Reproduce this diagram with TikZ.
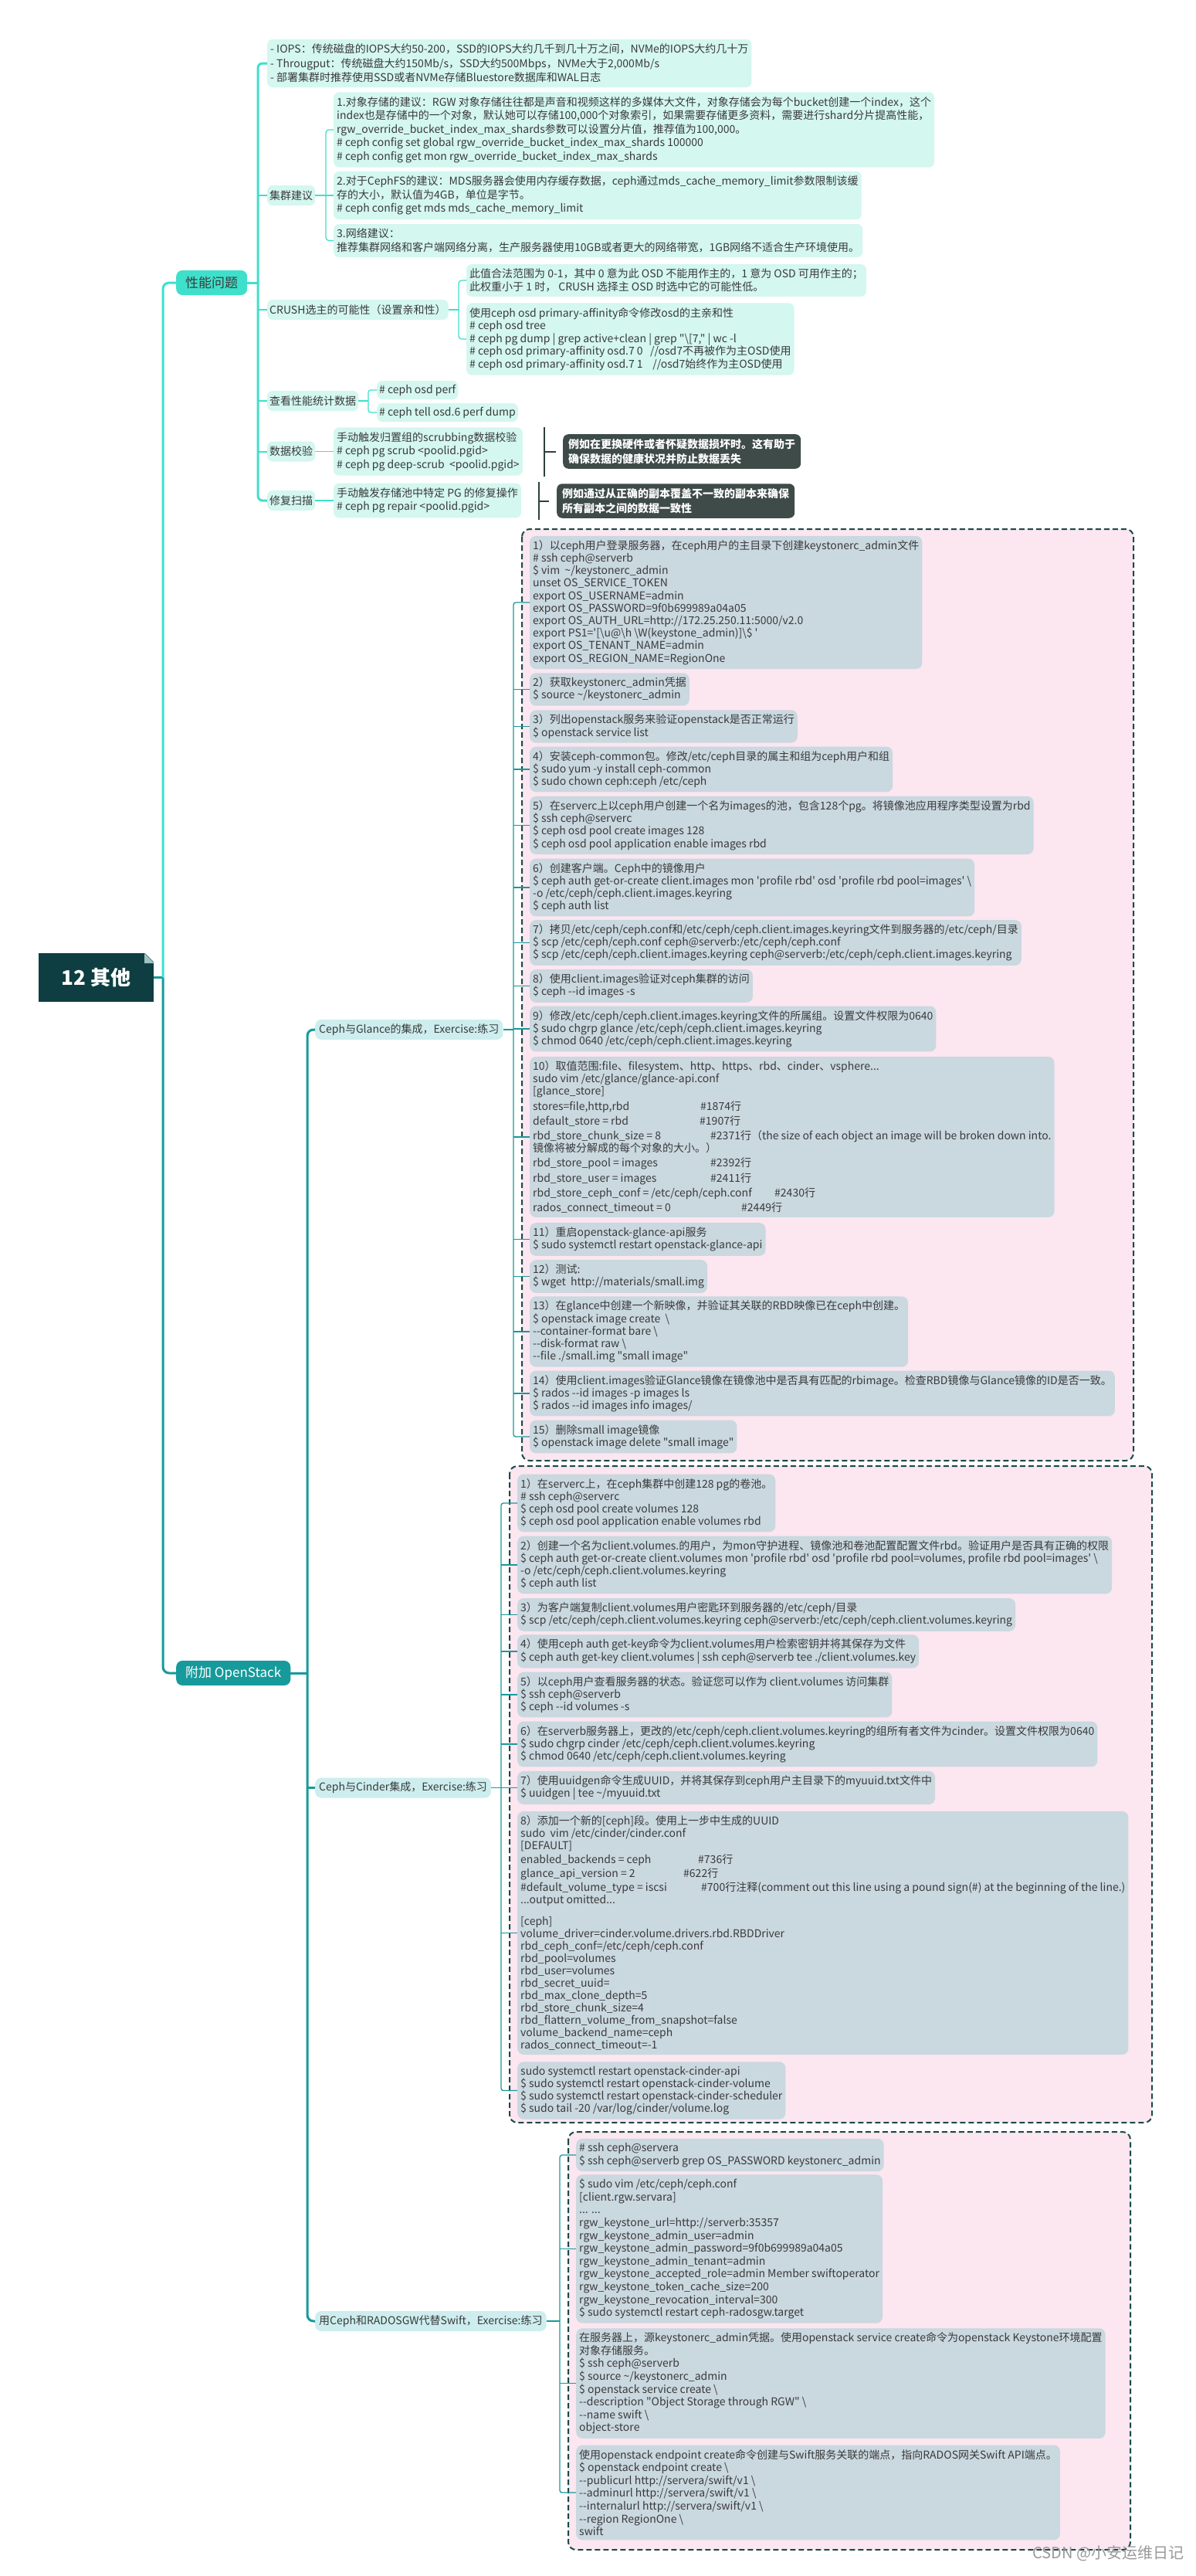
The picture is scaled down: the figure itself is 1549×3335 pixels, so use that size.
\documentclass[tikz,border=0pt]{standalone}
\usepackage{fontspec}
\newfontfamily\nsc{Noto Sans CJK SC}
\newcommand\Bs{\char"5C\relax}
\newcommand\Tl{\char"7E\relax}
\definecolor{mint}{HTML}{D4F7F0}
\definecolor{turq}{HTML}{3FE0CB}
\definecolor{rootc}{HTML}{0E3E41}
\definecolor{teal}{HTML}{179A9B}
\definecolor{lblc}{HTML}{CDEDEE}
\definecolor{itemc}{HTML}{CAD8E0}
\definecolor{pinkc}{HTML}{FCE6F0}
\definecolor{dashc}{HTML}{1A4A48}
\definecolor{calf}{HTML}{3E4B48}
\definecolor{txt}{HTML}{3A3A3A}
\definecolor{brkc}{HTML}{2D403E}
\definecolor{wmc}{HTML}{999999}
\definecolor{flapc}{HTML}{9FC3C3}
\begin{document}
\begin{tikzpicture}[x=1pt,y=-1pt,
  mintbox/.style={fill=mint, rounded corners=7pt, align=left, anchor=west, inner xsep=4pt, inner ysep=6pt, text=txt, font=\nsc\fontsize{14}{17.5}\selectfont},
  midlbl/.style={fill=mint, rounded corners=7pt, anchor=west, inner xsep=3pt, inner ysep=0pt, minimum height=26pt, text=txt, font=\nsc\fontsize{14}{17}\selectfont},
  bluebox/.style={fill=itemc, rounded corners=8pt, align=left, anchor=west, inner xsep=4pt, inner ysep=5.5pt, text=txt, font=\nsc\fontsize{14}{16.2}\selectfont},
  oslbl/.style={fill=lblc, rounded corners=8pt, anchor=west, inner xsep=5pt, inner ysep=0pt, minimum height=26pt, text=txt, font=\nsc\fontsize{14}{17}\selectfont},
  callout/.style={fill=calf, rounded corners=7pt, align=left, anchor=west, inner xsep=7pt, inner ysep=6pt, text=white, font=\nsc\bfseries\fontsize{14}{19}\selectfont},
  lvlone/.style={rounded corners=8pt, anchor=west, inner xsep=12pt, inner ysep=0pt, minimum height=32pt, font=\nsc\fontsize{17}{20}\selectfont},
  rootbox/.style={fill=rootc, text=white, minimum width=149pt, minimum height=63pt, inner sep=0pt, font=\nsc\bfseries\fontsize{26}{30}\selectfont},
  tT/.style={draw=turq, line width=3pt},
  bT/.style={draw=turq, line width=2pt},
  sT/.style={draw=turq, line width=1.3pt},
  tD/.style={draw=teal, line width=3pt},
  sD/.style={draw=teal, line width=1.3pt},
  brk/.style={draw=brkc, line width=2pt},
  bnd/.style={fill=pinkc, draw=dashc, line width=2pt, dash pattern=on 7pt off 4pt, rounded corners=10pt}
]
\fill[white] (0,0) rectangle (1549,3335);
\useasboundingbox (0,0) rectangle (1549,3335);

% ---------- boundaries ----------
\draw[bnd] (676,685) rectangle (1468,1891);
\draw[bnd] (660,1898) rectangle (1492,2748);
\draw[bnd] (736,2760) rectangle (1464,3301);

% ---------- bus coordinates ----------
\coordinate (bus0) at (211,0);
\coordinate (bus1) at (334,0);
\coordinate (bus2) at (422,0);
\coordinate (bus3) at (594,0);
\coordinate (bus6) at (477,0);
\coordinate (bus4) at (398,0);
\coordinate (bus5) at (665,0);
\coordinate (bus7) at (649,0);
\coordinate (bus8) at (725,0);

% ---------- root ----------
\node[rootbox] (root) at (124.5,1265.5) {12 其他};
\fill[white] (187,1233) -- (201,1233) -- (201,1247) -- cycle;
\fill[flapc] (187,1234) -- (200,1247) -- (187,1247) -- cycle;

% ---------- level one ----------
\node[lvlone, fill=turq, text=txt] (perf) at (228,366) {性能问题};
\node[lvlone, fill=teal, text=white] (ops) at (228,2166) {附加 OpenStack};

% ---------- performance section ----------
\node[mintbox, font=\nsc\fontsize{14}{18.5}\selectfont] (notes) at (346,82) {- IOPS：传统磁盘的IOPS大约50-200，SSD的IOPS大约几千到几十万之间，NVMe的IOPS大约几十万\\
- Througput：传统磁盘大约150Mb/s，SSD大约500Mbps，NVMe大于2,000Mb/s\\
- 部署集群时推荐使用SSD或者NVMe存储Bluestore数据库和WAL日志};

\node[midlbl] (clus) at (346,253) {集群建议};
\node[mintbox] (c1) at (432,168) {1.对象存储的建议：RGW 对象存储往往都是声音和视频这样的多媒体大文件，对象存储会为每个bucket创建一个index，这个\\
index也是存储中的一个对象，默认她可以存储100,000个对象索引，如果需要存储更多资料，需要进行shard分片提高性能，\\
rgw\_override\_bucket\_index\_max\_shards参数可以设置分片值，推荐值为100,000。\\
\# ceph config set global rgw\_override\_bucket\_index\_max\_shards 100000\\
\# ceph config get mon rgw\_override\_bucket\_index\_max\_shards};
\node[mintbox] (c2) at (432,253) {2.对于CephFS的建议：MDS服务器会使用内存缓存数据，ceph通过mds\_cache\_memory\_limit参数限制该缓\\
存的大小，默认值为4GB，单位是字节。\\
\# ceph config get mds mds\_cache\_memory\_limit};
\node[mintbox] (c3) at (432,311.5) {3.网络建议：\\
推荐集群网络和客户端网络分离，生产服务器使用10GB或者更大的网络带宽，1GB网络不适合生产环境使用。};

\node[midlbl] (crush) at (346,401) {CRUSH选主的可能性（设置亲和性）};
\node[mintbox, font=\nsc\fontsize{14}{16.5}\selectfont] (cA) at (604,363) {此值合法范围为 0-1，其中 0 意为此 OSD 不能用作主的，1 意为 OSD 可用作主的；\\
此权重小于 1 时， CRUSH 选择主 OSD 时选中它的可能性低。};
\node[mintbox, font=\nsc\fontsize{14}{16.5}\selectfont] (cB) at (604,439) {使用ceph osd primary-affinity命令修改osd的主亲和性\\
\# ceph osd tree\\
\# ceph pg dump | grep active+clean | grep "\Bs[7," | wc -l\\
\# ceph osd primary-affinity osd.7 0\ \ \ //osd7不再被作为主OSD使用\\
\# ceph osd primary-affinity osd.7 1\ \ \ \ //osd7始终作为主OSD使用};

\node[midlbl] (stat) at (346,519) {查看性能统计数据};
\node[midlbl, minimum height=24pt] (s1) at (488,505) {\# ceph osd perf};
\node[midlbl, minimum height=24pt] (s2) at (488,534) {\# ceph tell osd.6 perf dump};

\node[midlbl] (check) at (346,584.5) {数据校验};
\node[mintbox, font=\nsc\fontsize{14}{17.5}\selectfont] (checkc) at (432,584.5) {手动触发归置组的scrubbing数据校验\\
\# ceph pg scrub <poolid.pgid>\\
\# ceph pg deep-scrub\ \ <poolid.pgid>};
\node[callout] (cal1) at (729,584.5) {例如在更换硬件或者怀疑数据损坏时。这有助于\\确保数据的健康状况并防止数据丢失};

\node[midlbl] (fix) at (346,648) {修复扫描};
\node[mintbox] (fixc) at (432,648) {手动触发存储池中特定 PG 的修复操作\\
\# ceph pg repair <poolid.pgid>};
\node[callout] (cal2) at (721,648.5) {例如通过从正确的副本覆盖不一致的副本来确保\\所有副本之间的数据一致性};

% ---------- OpenStack labels ----------
\node[oslbl] (glance) at (408,1333) {Ceph与Glance的集成，Exercise:练习};
\node[oslbl] (cinder) at (408,2314.5) {Ceph与Cinder集成，Exercise:练习};
\node[oslbl] (swift) at (408,3005) {用Ceph和RADOSGW代替Swift，Exercise:练习};

% ---------- Glance items ----------
\node[bluebox] (g1) at (686,780) {1）以ceph用户登录服务器，在ceph用户的主目录下创建keystonerc\_admin文件\\
\# ssh ceph@serverb\\
\$ vim\ \ \Tl/keystonerc\_admin\\
unset OS\_SERVICE\_TOKEN\\
export OS\_USERNAME=admin\\
export OS\_PASSWORD=9f0b699989a04a05\\
export OS\_AUTH\_URL=http://172.25.250.11:5000/v2.0\\
export PS1='[\Bs u@\Bs h \Bs W(keystone\_admin)]\Bs\$ '\\
export OS\_TENANT\_NAME=admin\\
export OS\_REGION\_NAME=RegionOne};
\node[bluebox] (g2) at (686,892.5) {2）获取keystonerc\_admin凭据\\
\$ source \Tl/keystonerc\_admin};
\node[bluebox] (g3) at (686,940.5) {3）列出openstack服务来验证openstack是否正常运行\\
\$ openstack service list};
\node[bluebox] (g4) at (686,996) {4）安装ceph-common包。修改/etc/ceph目录的属主和组为ceph用户和组\\
\$ sudo yum -y install ceph-common\\
\$ sudo chown ceph:ceph /etc/ceph};
\node[bluebox] (g5) at (686,1068.5) {5）在serverc上以ceph用户创建一个名为images的池，包含128个pg。将镜像池应用程序类型设置为rbd\\
\$ ssh ceph@serverc\\
\$ ceph osd pool create images 128\\
\$ ceph osd pool application enable images rbd};
\node[bluebox] (g6) at (686,1149) {6）创建客户端。Ceph中的镜像用户\\
\$ ceph auth get-or-create client.images mon 'profile rbd' osd 'profile rbd pool=images' \Bs\\
-o /etc/ceph/ceph.client.images.keyring\\
\$ ceph auth list};
\node[bluebox] (g7) at (686,1220.5) {7）拷贝/etc/ceph/ceph.conf和/etc/ceph/ceph.client.images.keyring文件到服务器的/etc/ceph/目录\\
\$ scp /etc/ceph/ceph.conf ceph@serverb:/etc/ceph/ceph.conf\\
\$ scp /etc/ceph/ceph.client.images.keyring ceph@serverb:/etc/ceph/ceph.client.images.keyring};
\node[bluebox] (g8) at (686,1276.5) {8）使用client.images验证对ceph集群的访问\\
\$ ceph --id images -s};
\node[bluebox] (g9) at (686,1332) {9）修改/etc/ceph/ceph.client.images.keyring文件的所属组。设置文件权限为0640\\
\$ sudo chgrp glance /etc/ceph/ceph.client.images.keyring\\
\$ chmod 0640 /etc/ceph/ceph.client.images.keyring};
\node[bluebox] (g10) at (686,1472) {10）取值范围:file、filesystem、http、https、rbd、cinder、vsphere...\\
sudo vim /etc/glance/glance-api.conf\\
{[}glance\_store]\\[3pt]
\makebox[217pt][l]{stores=file,http,rbd}\#1874行\\[3pt]
\makebox[216pt][l]{default\_store = rbd}\#1907行\\[3pt]
\makebox[230pt][l]{rbd\_store\_chunk\_size = 8}\#2371行（the size of each object an image will be broken down into.\\
镜像将被分解成的每个对象的大小。）\\[3pt]
\makebox[230pt][l]{rbd\_store\_pool = images}\#2392行\\[3pt]
\makebox[230pt][l]{rbd\_store\_user = images}\#2411行\\[3pt]
\makebox[313pt][l]{rbd\_store\_ceph\_conf = /etc/ceph/ceph.conf}\#2430行\\[3pt]
\makebox[270pt][l]{rados\_connect\_timeout = 0}\#2449行};
\node[bluebox] (g11) at (686,1604.5) {11）重启openstack-glance-api服务\\
\$ sudo systemctl restart openstack-glance-api};
\node[bluebox] (g12) at (686,1652.5) {12）测试:\\
\$ wget\ \ http://materials/small.img};
\node[bluebox] (g13) at (686,1724) {13）在glance中创建一个新映像，并验证其关联的RBD映像已在ceph中创建。\\
\$ openstack image create\ \ \Bs\\
--container-format bare \Bs\\
--disk-format raw \Bs\\
--file ./small.img "small image"};
\node[bluebox] (g14) at (686,1804) {14）使用client.images验证Glance镜像在镜像池中是否具有匹配的rbimage。检查RBD镜像与Glance镜像的ID是否一致。\\
\$ rados --id images -p images ls\\
\$ rados --id images info images/};
\node[bluebox] (g15) at (686,1860) {15）删除small image镜像\\
\$ openstack image delete "small image"};

% ---------- Cinder items ----------
\node[bluebox] (k1) at (670,1946) {1）在serverc上，在ceph集群中创建128 pg的卷池。\\
\# ssh ceph@serverc\\
\$ ceph osd pool create volumes 128\\
\$ ceph osd pool application enable volumes rbd};
\node[bluebox] (k2) at (670,2026) {2）创建一个名为client.volumes.的用户，为mon守护进程、镜像池和卷池配置配置文件rbd。验证用户是否具有正确的权限\\
\$ ceph auth get-or-create client.volumes mon 'profile rbd' osd 'profile rbd pool=volumes, profile rbd pool=images' \Bs\\
-o /etc/ceph/ceph.client.volumes.keyring\\
\$ ceph auth list};
\node[bluebox] (k3) at (670,2090.5) {3）为客户端复制client.volumes用户密匙环到服务器的/etc/ceph/目录\\
\$ scp /etc/ceph/ceph.client.volumes.keyring ceph@serverb:/etc/ceph/ceph.client.volumes.keyring};
\node[bluebox] (k4) at (670,2138) {4）使用ceph auth get-key命令为client.volumes用户检索密钥并将其保存为文件\\
\$ ceph auth get-key client.volumes | ssh ceph@serverb tee ./client.volumes.key};
\node[bluebox] (k5) at (670,2194) {5）以ceph用户查看服务器的状态。验证您可以作为 client.volumes 访问集群\\
\$ ssh ceph@serverb\\
\$ ceph --id volumes -s};
\node[bluebox] (k6) at (670,2258) {6）在serverb服务器上，更改的/etc/ceph/ceph.client.volumes.keyring的组所有者文件为cinder。设置文件权限为0640\\
\$ sudo chgrp cinder /etc/ceph/ceph.client.volumes.keyring\\
\$ chmod 0640 /etc/ceph/ceph.client.volumes.keyring};
\node[bluebox] (k7) at (670,2314.5) {7）使用uuidgen命令生成UUID，并将其保存到ceph用户主目录下的myuuid.txt文件中\\
\$ uuidgen | tee \Tl/myuuid.txt};
\node[bluebox, font=\nsc\fontsize{14}{16}\selectfont] (k8) at (670,2502.5) {8）添加一个新的[ceph]段。使用上一步中生成的UUID\\
sudo\ \ vim /etc/cinder/cinder.conf\\
{[}DEFAULT]\\[2pt]
\makebox[230pt][l]{enabled\_backends = ceph}\#736行\\[2pt]
\makebox[211pt][l]{glance\_api\_version = 2}\#622行\\[2pt]
\makebox[234pt][l]{\#default\_volume\_type = iscsi}\#700行注释(comment out this line using a pound sign(\#) at the beginning of the line.)\\
...output omitted...\\[12pt]
{[}ceph]\\
volume\_driver=cinder.volume.drivers.rbd.RBDDriver\\
rbd\_ceph\_conf=/etc/ceph/ceph.conf\\
rbd\_pool=volumes\\
rbd\_user=volumes\\
rbd\_secret\_uuid=\\
rbd\_max\_clone\_depth=5\\
rbd\_store\_chunk\_size=4\\
rbd\_flattern\_volume\_from\_snapshot=false\\
volume\_backend\_name=ceph\\
rados\_connect\_timeout=-1};
\node[bluebox] (k9) at (670,2706.5) {sudo systemctl restart openstack-cinder-api\\
\$ sudo systemctl restart openstack-cinder-volume\\
\$ sudo systemctl restart openstack-cinder-scheduler\\
\$ sudo tail -20 /var/log/cinder/volume.log};

% ---------- Swift items ----------
\node[bluebox, font=\nsc\fontsize{14}{16.6}\selectfont] (w1) at (746,2790) {\# ssh ceph@servera\\
\$ ssh ceph@serverb grep OS\_PASSWORD keystonerc\_admin};
\node[bluebox, font=\nsc\fontsize{14}{16.6}\selectfont] (w2) at (746,2911.5) {\$ sudo vim /etc/ceph/ceph.conf\\
{[}client.rgw.servara]\\
... ...\\
rgw\_keystone\_url=http://serverb:35357\\
rgw\_keystone\_admin\_user=admin\\
rgw\_keystone\_admin\_password=9f0b699989a04a05\\
rgw\_keystone\_admin\_tenant=admin\\
rgw\_keystone\_accepted\_role=admin Member swiftoperator\\
rgw\_keystone\_token\_cache\_size=200\\
rgw\_keystone\_revocation\_interval=300\\
\$ sudo systemctl restart ceph-radosgw.target};
\node[bluebox, font=\nsc\fontsize{14}{16.6}\selectfont] (w3) at (746,3085.5) {在服务器上，源keystonerc\_admin凭据。使用openstack service create命令为openstack Keystone环境配置\\
对象存储服务。\\
\$ ssh ceph@serverb\\
\$ source \Tl/keystonerc\_admin\\
\$ openstack service create \Bs\\
--description "Object Storage through RGW" \Bs\\
--name swift \Bs\\
object-store};
\node[bluebox, font=\nsc\fontsize{14}{16.6}\selectfont] (w4) at (746,3227) {使用openstack endpoint create命令创建与Swift服务关联的端点，指向RADOS网关Swift API端点。\\
\$ openstack endpoint create \Bs\\
--publicurl http://servera/swift/v1 \Bs\\
--adminurl http://servera/swift/v1 \Bs\\
--internalurl http://servera/swift/v1 \Bs\\
--region RegionOne \Bs\\
swift};

% ---------- watermark ----------
\node[anchor=east, text=wmc, font=\nsc\fontsize{20}{22}\selectfont] (wm) at (1537,3306) {CSDN @小安运维日记};

% ---------- connectors ----------
\draw[tD] (root.east) -- (root.east -| bus0);
\draw[tT, rounded corners=8pt] (root.east -| bus0) -- (bus0 |- perf.west) -- (perf.west);
\draw[tD, rounded corners=8pt] (root.east -| bus0) -- (bus0 |- ops.west) -- (ops.west);

\draw[tT, rounded corners=6pt] (notes.west) -- (notes.west -| bus1) -- (bus1 |- fix.west) -- (fix.west);
\draw[tT] (perf.east) -- (perf.east -| bus1);
\foreach \n in {clus,crush,stat,check} \draw[bT] (bus1 |- \n.west) -- (\n.west);

\draw[sT, rounded corners=4pt] (c1.west) -- (c1.west -| bus2) -- (bus2 |- c3.west) -- (c3.west);
\draw[sT] (clus.east) -- (c2.west);

\draw[sT, rounded corners=4pt] (cA.west) -- (cA.west -| bus3) -- (bus3 |- cB.west) -- (cB.west);
\draw[sT] (crush.east) -- (crush.east -| bus3);

\draw[sT, rounded corners=3pt] (s1.west) -- (s1.west -| bus6) -- (bus6 |- s2.west) -- (s2.west);
\draw[sT] (stat.east) -- (stat.east -| bus6);

\draw[sT] (check.east) -- (checkc.west);
\draw[sT] (fix.east) -- (fixc.west);

\coordinate (bk1t) at (705,553);
\coordinate (bk1b) at (705,617);
\coordinate (bk1m) at (705,584.5);
\draw[brk] (bk1t) -- (bk1b);
\draw[brk, shorten >=9pt] (bk1m) -- (cal1.west);
\coordinate (bk2t) at (698,624);
\coordinate (bk2b) at (698,673);
\coordinate (bk2m) at (698,648.5);
\draw[brk] (bk2t) -- (bk2b);
\draw[brk, shorten >=10pt] (bk2m) -- (cal2.west);

\draw[tD, rounded corners=8pt] (glance.west) -- (glance.west -| bus4) -- (bus4 |- swift.west) -- (swift.west);
\draw[tD] (ops.east) -- (ops.east -| bus4);
\draw[tD] (bus4 |- cinder.west) -- (cinder.west);

\draw[sD, rounded corners=3pt] (g1.west) -- (g1.west -| bus5) -- (bus5 |- g15.west) -- (g15.west);
\foreach \n in {g2,g3,g4,g5,g6,g7,g8,g9,g10,g11,g12,g13,g14} \draw[sD] (bus5 |- \n.west) -- (\n.west);
\draw[sD] (glance.east) -- (glance.east -| bus5);

\draw[sD, rounded corners=3pt] (k1.west) -- (k1.west -| bus7) -- (bus7 |- k9.west) -- (k9.west);
\foreach \n in {k2,k3,k4,k5,k6,k7,k8} \draw[sD] (bus7 |- \n.west) -- (\n.west);
\draw[sD] (cinder.east) -- (cinder.east -| bus7);

\draw[sD, rounded corners=3pt] (w1.west) -- (w1.west -| bus8) -- (bus8 |- w4.west) -- (w4.west);
\foreach \n in {w2,w3} \draw[sD] (bus8 |- \n.west) -- (\n.west);
\draw[sD] (swift.east) -- (swift.east -| bus8);
\end{tikzpicture}
\end{document}
